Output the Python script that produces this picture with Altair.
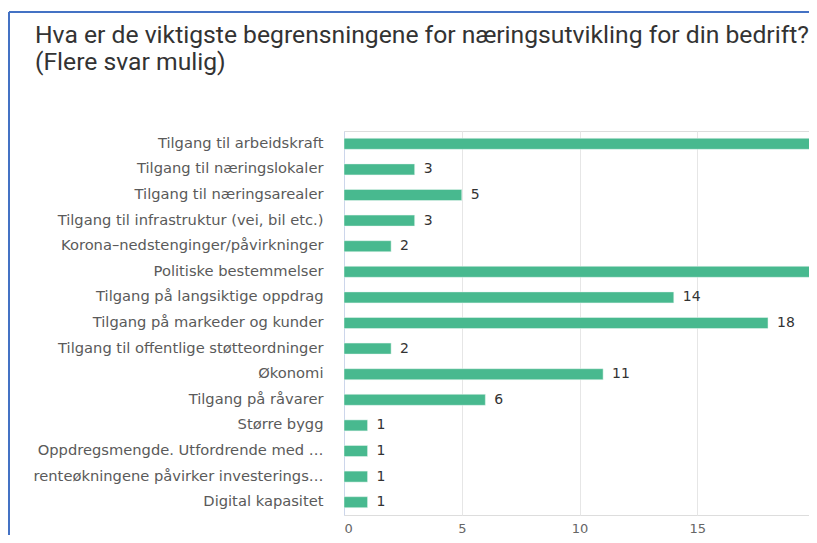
import altair as alt
import pandas as pd

categories = [
    "Tilgang til arbeidskraft",
    "Tilgang til næringslokaler",
    "Tilgang til næringsarealer",
    "Tilgang til infrastruktur (vei, bil etc.)",
    "Korona–nedstenginger/påvirkninger",
    "Politiske bestemmelser",
    "Tilgang på langsiktige oppdrag",
    "Tilgang på markeder og kunder",
    "Tilgang til offentlige støtteordninger",
    "Økonomi",
    "Tilgang på råvarer",
    "Større bygg",
    "Oppdregsmengde. Utfordrende med …",
    "renteøkningene påvirker investerings…",
    "Digital kapasitet",
]
values = [23, 3, 5, 3, 2, 21, 14, 18, 2, 11, 6, 1, 1, 1, 1]
x_ticks = [0, 5, 10, 15, 20]
title_lines = [
    "Hva er de viktigste begrensningene for næringsutvikling for din bedrift?",
    "(Flere svar mulig)",
]

df = pd.DataFrame({"kategori": categories, "antall": values})

W = 465
H = 384
TOP = 123

xscale = alt.Scale(domain=[0, 19.74], nice=False, zero=True)
yscale = alt.Scale(paddingInner=0.57, paddingOuter=0.285)

base = alt.Chart(df).encode(
    y=alt.Y(
        "kategori:N",
        sort=None,
        scale=yscale,
        axis=alt.Axis(
            title=None,
            ticks=False,
            domain=True,
            domainColor="#ccd6eb",
            domainWidth=1,
            labelPadding=21,
            labelFont="DejaVu Sans",
            labelFontSize=14.7,
            labelColor="#5a5a5a",
            labelLimit=400,
        ),
    )
)

bars = base.mark_bar(color="#48B98F", clip=True, stroke="#e8f6f0", strokeWidth=0.5).encode(
    x=alt.X(
        "antall:Q",
        scale=xscale,
        axis=alt.Axis(
            title=None,
            values=x_ticks,
            ticks=False,
            domain=False,
            grid=True,
            gridColor="#e6e6e6",
            gridWidth=1,
            labelPadding=7,
            labelFont="DejaVu Sans",
            labelFontSize=13,
            labelColor="#666666",
        ),
    )
)

labels = base.mark_text(
    align="left", baseline="middle", dx=9, clip=True,
    font="DejaVu Sans", fontSize=14, color="#333333"
).encode(
    x=alt.X("antall:Q", scale=xscale),
    text="antall:Q",
)

frame_df = pd.DataFrame({"f": [0]})
frame_top = alt.Chart(frame_df).mark_rule(color="#4472C4", strokeWidth=2).encode(
    x=alt.value(-335), x2=alt.value(W + 10), y=alt.value(-(TOP - 4))
)
frame_left = alt.Chart(frame_df).mark_rule(color="#4472C4", strokeWidth=2).encode(
    x=alt.value(-335), y=alt.value(-(TOP - 4)), y2=alt.value(H + 40)
)

chart = alt.layer(frame_top, frame_left, bars, labels).properties(
    width=W,
    height=H,
    autosize=alt.AutoSizeParams(type="none"),
    padding={"left": 336, "top": TOP, "right": 0, "bottom": 20},
    title=alt.TitleParams(
        text=title_lines,
        anchor="start",
        frame="group",
        font="Roboto",
        fontSize=24.7,
        fontWeight="normal",
        color="#333333",
        lineHeight=27,
        dx=-309,
        dy=64,
        offset=0,
    ),
).configure_view(stroke=None).configure(background="white")

chart.save("out.html", embed_options={"renderer": "svg", "actions": False})
